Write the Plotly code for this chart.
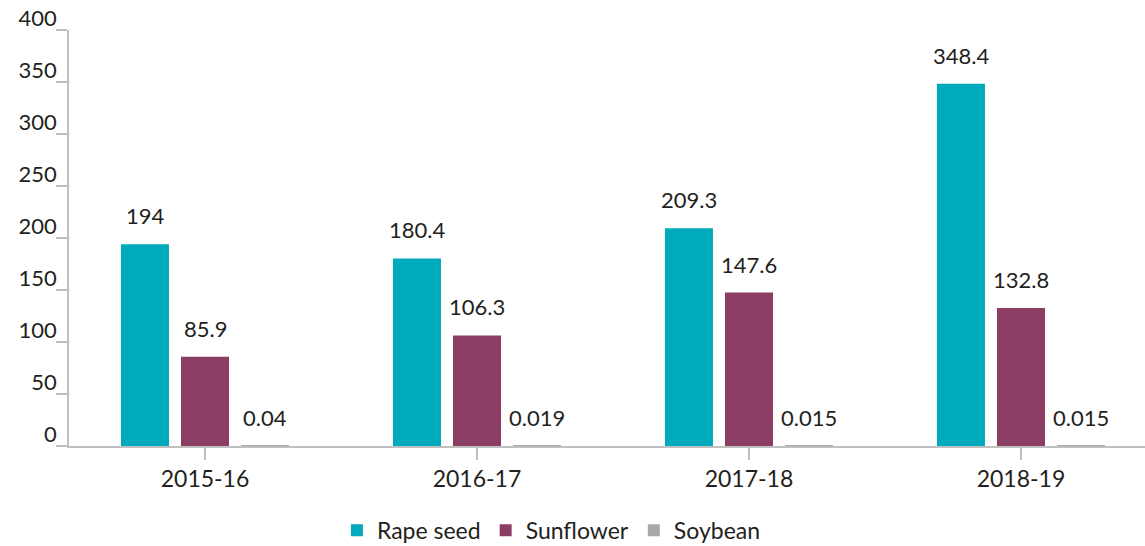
import plotly.graph_objects as go

years = ["2015-16", "2016-17", "2017-18", "2018-19"]
rape_seed = [194, 180.4, 209.3, 348.4]
sunflower = [85.9, 106.3, 147.6, 132.8]
soybean = [0.04, 0.019, 0.015, 0.015]

rape_labels = ["194", "180.4", "209.3", "348.4"]
sun_labels = ["85.9", "106.3", "147.6", "132.8"]
soy_labels = ["0.04", "0.019", "0.015", "0.015"]

font = "Lato"
txt = "#231f20"
axis_col = "#bfbfbf"

series = [
    ("Rape seed", rape_seed, rape_labels, "#00aabd"),
    ("Sunflower", sunflower, sun_labels, "#8c3d63"),
    ("Soybean", soybean, soy_labels, "#a7a9ac"),
]

fig = go.Figure()
for i, (name, vals, labels, col) in enumerate(series):
    fig.add_trace(go.Bar(x=years, y=vals, name=name, marker_color=col,
                         marker_line_width=0))
    # value labels above each bar (bar slot is 60px wide)
    for yr, v, lab in zip(years, vals, labels):
        fig.add_annotation(x=yr, y=v, text=lab, showarrow=False, yanchor="bottom",
                           xshift=(i - 1) * 60, yshift=13,
                           font=dict(family=font, size=22, color=txt))

fig.update_layout(
    width=1145, height=546,
    margin=dict(l=69, r=0, t=30, b=100),
    plot_bgcolor="white", paper_bgcolor="white",
    barmode="group", bargap=0.338, bargroupgap=0.2,
    font=dict(family=font, size=22, color=txt),
    showlegend=True,
    legend=dict(orientation="h", x=0.249, xanchor="left",
                yref="container", y=0.068, yanchor="top",
                font=dict(size=23), itemwidth=30, traceorder="normal"),
)
fig.update_xaxes(range=[-0.5, 3.456], showline=True, linecolor=axis_col, linewidth=1.5,
                 ticks="outside", ticklen=12, tickcolor=axis_col, tickwidth=1.5,
                 tickson="labels", showgrid=False, automargin=False,
                 tickfont=dict(size=23))
fig.update_yaxes(range=[0, 400], dtick=50, showline=True, linecolor=axis_col, linewidth=1.5,
                 ticks="outside", ticklen=11, tickcolor=axis_col, tickwidth=1.5,
                 ticklabelshift=-12, ticklabelstandoff=-5, showgrid=False, zeroline=False,
                 automargin=False, tickfont=dict(size=22))

fig.write_html("out.html", config={"displayModeBar": False},
               post_script="document.body.style.margin='0';")
